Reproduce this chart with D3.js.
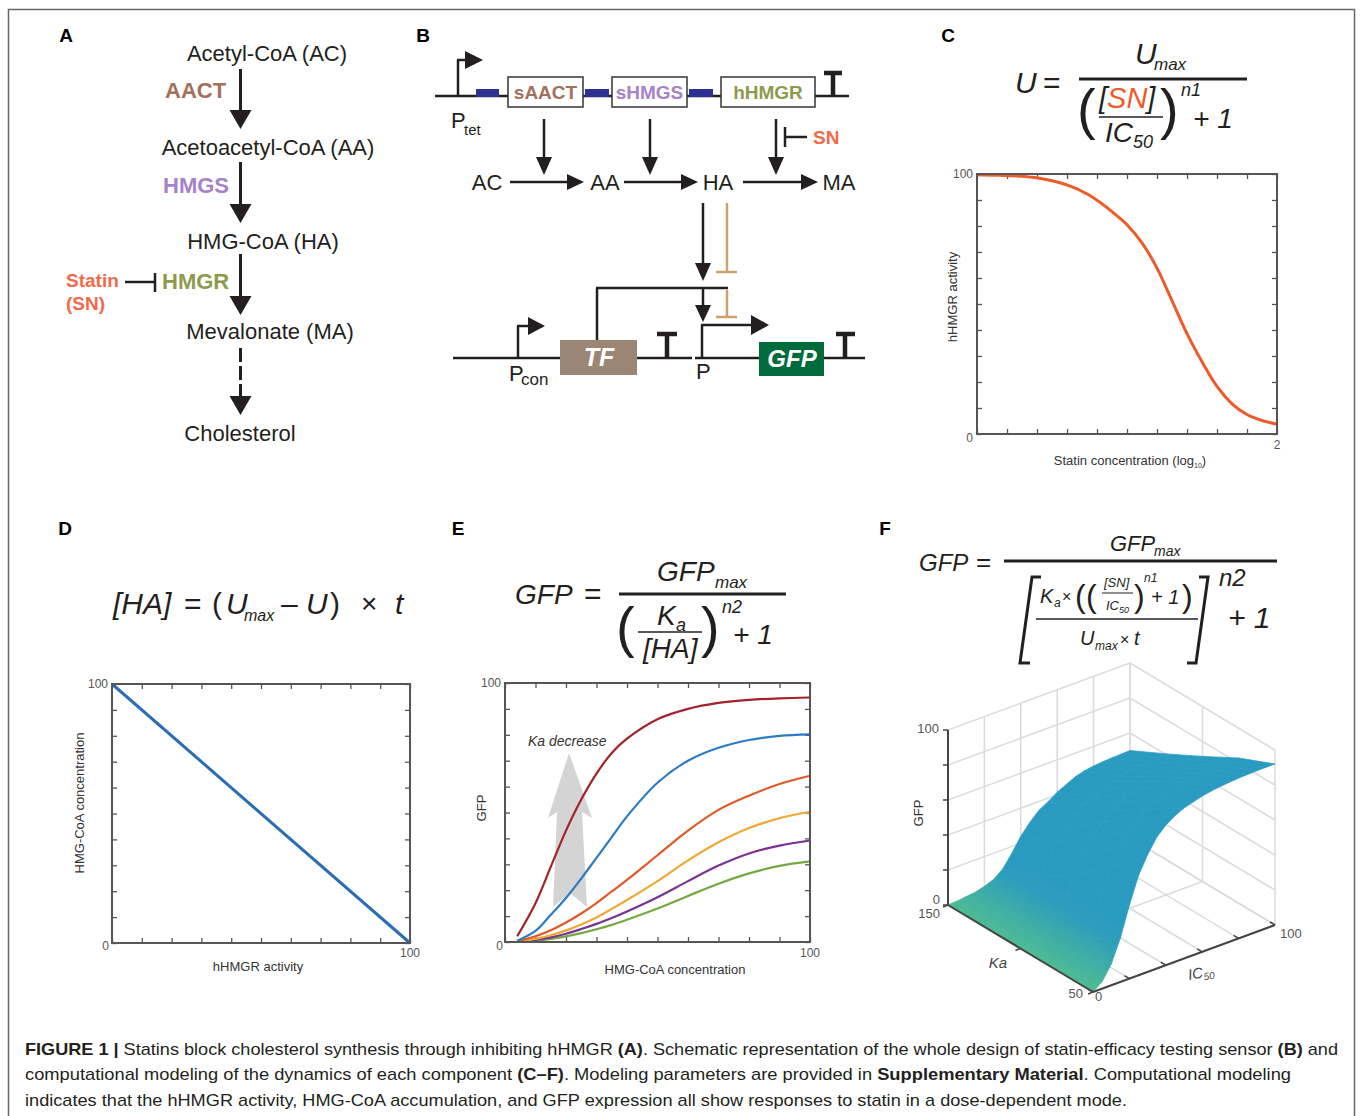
<!DOCTYPE html>
<html><head><meta charset="utf-8">
<script src="https://cdn.jsdelivr.net/npm/d3@7"></script>
<style>body{margin:0;background:#fff}svg{display:block}text{font-family:"Liberation Sans",Arial,sans-serif}</style>
</head><body><svg id="fig" width="1360" height="1116"></svg>
<script>
// ---------------- DATA ----------------
const panelLetters = ["A","B","C","D","E","F"];
const pathwaySteps = ["Acetyl-CoA (AC)","Acetoacetyl-CoA (AA)","HMG-CoA (HA)","Mevalonate (MA)","Cholesterol"];
const pathwayEnzymes = ["AACT","HMGS","HMGR"];
const geneNames = ["sAACT","sHMGS","hHMGR"];
const metabolites = ["AC","AA","HA","MA"];

// Panel C: hHMGR activity vs statin concentration (log10)
const statinConc   = [0, 0.15, 0.3, 0.45, 0.6, 0.75, 0.9, 1.0, 1.1, 1.2, 1.3, 1.4, 1.5, 1.6, 1.7, 1.8, 1.9, 2.0];
const hmgrActivity = [99.7, 99.5, 99.1, 98.0, 95.8, 91.8, 85.5, 80.5, 73.5, 63.8, 51.3, 38.6, 27.8, 18.3, 11.6, 7.5, 5.2, 3.8];
const cYTickLabels = ["0","100"]; const cXTickLabel = "2";

// Panel D: HMG-CoA concentration vs hHMGR activity
const hmgrActivityD = [0, 100];
const hmgCoaConc    = [100, 0];
const dYTickLabels = ["0","100"]; const dXTickLabel = "100";

// Panel E: GFP vs HMG-CoA concentration, six Ka values
const hmgCoaX = [4, 10, 15, 20, 25, 30, 35, 40, 50, 60, 70, 80, 90, 100];
const gfpCurve1 = [2.2, 15, 29, 43, 55, 65, 73, 78.5, 86, 90, 92.3, 93.5, 94.1, 94.4];
const gfpCurve2 = [0.5, 4.3, 10.5, 17, 24.5, 32.5, 40.5, 48.5, 61.5, 70, 75, 78, 79.6, 80.2];
const gfpCurve3 = [0.3, 2.2, 4.5, 7.5, 11, 15, 19.5, 24, 33.5, 43, 51, 56.5, 61, 64.2];
const gfpCurve4 = [0.1, 1.2, 2.6, 4.5, 6.8, 9.5, 12.8, 16.2, 23.5, 31.5, 38.5, 44, 47.8, 50.3];
const gfpCurve5 = [0, 0.8, 1.8, 3.2, 5, 7, 9.3, 11.8, 17.3, 23.5, 29.5, 34.2, 37.2, 39.2];
const gfpCurve6 = [0, 0.5, 1.2, 2.2, 3.4, 4.9, 6.6, 8.6, 12.9, 17.8, 22.5, 26.5, 29.4, 31.1];
const eCurveColors = ["#a2232b","#2b7cc4","#e05a26","#f0a833","#7b3294","#73a942"];
const eYTickLabels = ["0","100"]; const eXTickLabel = "100";

// Panel F: GFP surface over Ka (rows) and IC50 (columns)
const kaGrid = [50, 75, 100, 125, 150];
const icGrid = [0,5,10,15,20,25,30,35,40,45,50,55,60,65,70,75,80,85,90,95,100];
const gfpKa50  = [0,4,12,25,42,57,67,75,80,83.5,86,87.5,89,90,90.7,91.2,91.6,91.8,92,92,92];
const gfpKa75  = [0,1.5,5,12,22,35,47,57,64,69,73,76,78,79.5,80.5,81.3,81.8,82.2,82.5,82.7,83];
const gfpKa100 = [0,0.8,2.5,6,12,21,31,41,49,55,59.5,63,65.5,67.3,68.6,69.6,70.3,70.8,71.1,71.3,71.5];
const gfpKa125 = [0,0.3,1.2,3,6,11,17,25,33,39.5,44.5,48.5,51.5,54,56,57.5,58.5,59.3,59.8,60.2,60.5];
const gfpKa150 = [0,0.3,1,1.5,3,5,9,16,24,30,35,38,41.5,44,46.5,48,48.8,49.3,49.6,49.8,50];
const fZTicks = [0,20,40,60,80,100];
const fIcTicks = [0,20,40,60,80,100];
const fKaTicks = [50,100,150];

const captionLines = [
  [["FIGURE 1 | ",true],["Statins block cholesterol synthesis through inhibiting hHMGR ",false],["(A)",true],[". Schematic representation of the whole design of statin-efficacy testing sensor ",false],["(B)",true],[" and",false]],
  [["computational modeling of the dynamics of each component ",false],["(C–F)",true],[". Modeling parameters are provided in ",false],["Supplementary Material",true],[". Computational modeling",false]],
  [["indicates that the hHMGR activity, HMG-CoA accumulation, and GFP expression all show responses to statin in a dose-dependent mode.",false]]
];

// ---------------- HELPERS ----------------
const svg = d3.select('#fig');
const INK = '#231f20';
svg.append('rect').attr('width',1360).attr('height',1116).attr('fill','#fff');
svg.append('rect').attr('x',8.5).attr('y',9.5).attr('width',1346).attr('height',1130)
  .attr('fill','none').attr('stroke','#666').attr('stroke-width',1.5);

function T(g,x,y,s,o={}){
  const t=g.append('text').attr('x',x).attr('y',y).text(s)
    .attr('font-size',o.size||16).attr('fill',o.fill||INK);
  if(o.italic) t.attr('font-style','italic');
  if(o.bold) t.attr('font-weight','bold');
  if(o.anchor) t.attr('text-anchor',o.anchor);
  if(o.family) t.attr('font-family',o.family);
  if(o.rotate!=null) t.attr('transform',`rotate(${o.rotate},${x},${y})`);
  return t;
}
function L(g,x1,y1,x2,y2,c=INK,w=2.5){
  return g.append('line').attr('x1',x1).attr('y1',y1).attr('x2',x2).attr('y2',y2)
    .attr('stroke',c).attr('stroke-width',w);
}
function vArrow(g,x,y1,y2,hl,hw,c=INK,w=2.5,dash=null){
  L(g,x,y1,x,y2-hl+1,c,w).attr('stroke-dasharray',dash);
  g.append('path').attr('d',`M${x-hw},${y2-hl}L${x+hw},${y2-hl}L${x},${y2}Z`).attr('fill',c);
}
function hArrow(g,y,x1,x2,hl,hw,c=INK,w=2.5){
  L(g,x1,y,x2-hl+1,y,c,w);
  g.append('path').attr('d',`M${x2-hl},${y-hw}L${x2-hl},${y+hw}L${x2},${y}Z`).attr('fill',c);
}
const SERIF = '"Liberation Serif","Times New Roman",serif';

// panel letters
const letterPos = [[66,42],[423,42],[948,42],[65,535],[458,535],[885,535]];
panelLetters.forEach((s,i)=>T(svg,letterPos[i][0],letterPos[i][1],s,{size:19,bold:true,anchor:'middle',fill:'#000'}));

// ---------------- PANEL A ----------------
const gA = svg.append('g');
const aStepPos = [[267,61],[268,155],[263,249],[270,339],[240,441]];
pathwaySteps.forEach((s,i)=>T(gA,aStepPos[i][0],aStepPos[i][1],s,{size:22,anchor:'middle'}));
const enzColors = ['#a2705c','#a682c8','#8d9a4d'];
const aEnzPos = [[165,98],[163,193],[162,289]];
pathwayEnzymes.forEach((s,i)=>T(gA,aEnzPos[i][0],aEnzPos[i][1],s,{size:22,bold:true,fill:enzColors[i]}));
vArrow(gA,240.5,69,129,19,11,INK,3);
vArrow(gA,240.5,162,223,19,11,INK,3);
vArrow(gA,240.5,254,315,19,11,INK,3);
vArrow(gA,240.5,348,415,19,11,INK,3,'14,4');
T(gA,66,287,'Statin',{size:19,bold:true,fill:'#f26a4b'});
T(gA,66,310,'(SN)',{size:19,bold:true,fill:'#f26a4b'});
L(gA,125,282,155,282,INK,2.5);
L(gA,155,273,155,292,INK,2.5);

// ---------------- PANEL B ----------------
const gB = svg.append('g');
L(gB,435,96,849,96,INK,2.5);
L(gB,458,97,458,60,INK,2.5); L(gB,457,60,467,60,INK,2.5);
gB.append('path').attr('d','M465,51L465,69L483,60Z').attr('fill',INK);
T(gB,451,128,'P',{size:22}); T(gB,464,135,'tet',{size:15});
[[476,499],[585,609],[689,713]].forEach(d=>gB.append('rect').attr('x',d[0]).attr('y',89).attr('width',d[1]-d[0]).attr('height',8).attr('fill','#2e3192'));
const boxX=[[508,75],[612,75],[721,94]];
geneNames.forEach((s,i)=>{
  gB.append('rect').attr('x',boxX[i][0]).attr('y',77).attr('width',boxX[i][1]).attr('height',30)
    .attr('fill','#fff').attr('stroke','#333').attr('stroke-width',1.5);
  T(gB,boxX[i][0]+boxX[i][1]/2,99,s,{size:19,bold:true,anchor:'middle',fill:enzColors[i]});
});
L(gB,833,96,833,73,INK,4.5); L(gB,824,73,842,73,INK,4.5);
[544,650,776].forEach(x=>vArrow(gB,x,119,175,18,8,INK,2.5));
L(gB,785,137,807,137,INK,2.5); L(gB,785,127,785,147,INK,2.5);
T(gB,813,144,'SN',{size:19,bold:true,fill:'#f26a4b'});
const metX=[487,605,718,839];
metabolites.forEach((s,i)=>T(gB,metX[i],190,s,{size:22,anchor:'middle'}));
hArrow(gB,182,510,584,17,8); hArrow(gB,182,624,698,17,8); hArrow(gB,182,743,818,17,8);
vArrow(gB,703,203,281,18,8);
const TAN='#c9a26f';
L(gB,727,203,727,272,TAN,2.5); L(gB,716,272,737,272,TAN,2.5);
L(gB,597,340,597,288,INK,2.5); L(gB,596,288,728,288,INK,2.5);
vArrow(gB,703,288,322,17,8);
L(gB,727,290,727,317,TAN,2.5); L(gB,716,317,737,317,TAN,2.5);
L(gB,453,358,692,358,INK,2.5); L(gB,695,358,865,358,INK,2.5);
L(gB,518,359,518,326,INK,2.5); L(gB,517,326,530,326,INK,2.5);
gB.append('path').attr('d','M528,317L528,335L545,326Z').attr('fill',INK);
T(gB,509,381,'P',{size:22}); T(gB,521,385,'con',{size:17});
gB.append('rect').attr('x',560).attr('y',340).attr('width',77).attr('height',35).attr('fill','#9b8575');
T(gB,599,366,'TF',{size:25,bold:true,italic:true,fill:'#fff',anchor:'middle'});
L(gB,667,358,667,334,INK,4.5); L(gB,657,334,677,334,INK,4.5);
L(gB,845,358,845,334,INK,4.5); L(gB,836,334,855,334,INK,4.5);
L(gB,702,359,702,325,INK,2.5); L(gB,701,325,753,325,INK,2.5);
gB.append('path').attr('d','M751,315L751,335L769,325Z').attr('fill',INK);
T(gB,696,379,'P',{size:22});
gB.append('rect').attr('x',759).attr('y',342).attr('width',65).attr('height',34).attr('fill','#006b3c');
T(gB,792,367,'GFP',{size:24,bold:true,italic:true,fill:'#fff',anchor:'middle'});

// ---------------- PLOT HELPER ----------------
function boxPlot(g,x0,y0,w,h,xDom,yDom,nx,ny){
  const xs=d3.scaleLinear().domain(xDom).range([x0,x0+w]);
  const ys=d3.scaleLinear().domain(yDom).range([y0+h,y0]);
  const xt=d3.range(nx+1).map(i=>xDom[0]+(xDom[1]-xDom[0])*i/nx);
  const yt=d3.range(ny+1).map(i=>yDom[0]+(yDom[1]-yDom[0])*i/ny);
  const st=sel=>{sel.select('.domain').remove();sel.selectAll('.tick text').remove();
    sel.selectAll('.tick line').attr('stroke','#555').attr('stroke-width',1.3);};
  const axes=g.append('g');
  axes.append('g').attr('transform',`translate(0,${y0+h})`).call(d3.axisBottom(xs).tickValues(xt).tickSize(-5)).call(st);
  axes.append('g').attr('transform',`translate(0,${y0})`).call(d3.axisTop(xs).tickValues(xt).tickSize(-5)).call(st);
  axes.append('g').attr('transform',`translate(${x0},0)`).call(d3.axisLeft(ys).tickValues(yt).tickSize(-5)).call(st);
  axes.append('g').attr('transform',`translate(${x0+w},0)`).call(d3.axisRight(ys).tickValues(yt).tickSize(-5)).call(st);
  const frame=()=>g.append('rect').attr('x',x0).attr('y',y0).attr('width',w).attr('height',h)
      .attr('fill','none').attr('stroke','#555').attr('stroke-width',2);
  return {xs,ys,frame};
}
const TICKC='#555';

// ---------------- PANEL C ----------------
const gC = svg.append('g');
T(gC,1015,93,'U',{size:30,italic:true}); T(gC,1043,93,'=',{size:30});
L(gC,1079,79,1247,79,INK,3);
T(gC,1135,64,'U',{size:30,italic:true}); T(gC,1154,70,'max',{size:17,italic:true});
T(gC,1077,128,'(',{size:56,family:SERIF}); T(gC,1160,128,')',{size:56,family:SERIF});
const snT=T(gC,1099,108,'',{size:29,italic:true});
snT.append('tspan').text('[');snT.append('tspan').attr('fill','#f05a28').text('SN');snT.append('tspan').text(']');
L(gC,1099,117,1163,117,INK,1.5);
T(gC,1105,142,'IC',{size:28,italic:true}); T(gC,1133,148,'50',{size:18,italic:true});
T(gC,1181,96,'n1',{size:18,italic:true});
T(gC,1193,128,'+ 1',{size:28,italic:true});
{
  const p=boxPlot(gC,977,174,300,260,[0,2],[0,100],10,10);
  gC.append('path').datum(statinConc.map((x,i)=>[x,hmgrActivity[i]]))
    .attr('d',d3.line().x(d=>p.xs(d[0])).y(d=>p.ys(d[1])).curve(d3.curveMonotoneX))
    .attr('fill','none').attr('stroke','#f05a28').attr('stroke-width',3);
  p.frame();
  T(gC,p.xs(0)-4,p.ys(100)+4,cYTickLabels[1],{size:12,anchor:'end',fill:TICKC});
  T(gC,p.xs(0)-4,p.ys(0)+8,cYTickLabels[0],{size:12,anchor:'end',fill:TICKC});
  T(gC,p.xs(2),p.ys(0)+15,cXTickLabel,{size:12,anchor:'middle',fill:TICKC});
  T(gC,957,297,'hHMGR activity',{size:13,anchor:'middle',rotate:-90,fill:'#333'});
  const xl=T(gC,1130,465,'Statin concentration (log',{size:13,anchor:'middle',fill:'#333'});
  xl.append('tspan').attr('font-size',7).attr('dy',3).text('10');
  xl.append('tspan').attr('dy',-3).text(')');
}

// ---------------- PANEL D ----------------
const gD = svg.append('g');
T(gD,113,614,'[HA]',{size:30,italic:true});
T(gD,184,614,'=',{size:30});
T(gD,212,614,'(',{size:30});
T(gD,226,614,'U',{size:30,italic:true}); T(gD,244,621,'max',{size:16,italic:true});
T(gD,281,614,'–',{size:30});
T(gD,306,614,'U',{size:30,italic:true});
T(gD,330,614,')',{size:30});
T(gD,361,613,'×',{size:28});
T(gD,395,614,'t',{size:30,italic:true});
{
  const p=boxPlot(gD,112,684,298,259,[0,100],[0,100],10,10);
  gD.append('path').datum(hmgrActivityD.map((x,i)=>[x,hmgCoaConc[i]]))
    .attr('d',d3.line().x(d=>p.xs(d[0])).y(d=>p.ys(d[1])))
    .attr('fill','none').attr('stroke','#2a6db5').attr('stroke-width',3);
  p.frame();
  T(gD,p.xs(0)-4,p.ys(100)+4,dYTickLabels[1],{size:12,anchor:'end',fill:TICKC});
  T(gD,p.xs(0)-3,p.ys(0)+7,dYTickLabels[0],{size:12,anchor:'end',fill:TICKC});
  T(gD,p.xs(100),p.ys(0)+14,dXTickLabel,{size:12,anchor:'middle',fill:TICKC});
  T(gD,84,803,'HMG-CoA  concentration',{size:13,anchor:'middle',rotate:-90,fill:'#333'});
  T(gD,258,971,'hHMGR activity',{size:13,anchor:'middle',fill:'#333'});
}

// ---------------- PANEL E ----------------
const gE = svg.append('g');
T(gE,515,604,'GFP',{size:28,italic:true}); T(gE,584,604,'=',{size:30});
L(gE,619,594,786,594,INK,3);
T(gE,657,581,'GFP',{size:28,italic:true}); T(gE,715,588,'max',{size:17,italic:true});
T(gE,616,646,'(',{size:56,family:SERIF}); T(gE,701,646,')',{size:56,family:SERIF});
T(gE,657,625,'K',{size:28,italic:true}); T(gE,676,631,'a',{size:18,italic:true});
L(gE,638,632,702,632,INK,1.5);
T(gE,643,658,'[HA]',{size:28,italic:true});
T(gE,722,613,'n2',{size:18,italic:true});
T(gE,733,644,'+ 1',{size:28,italic:true});
{
  const p=boxPlot(gE,505,683,305,259,[0,100],[0,100],10,10);
  gE.append('path').attr('d','M569,753L592,818L582,812L587,907L570,893L553,907L557,812L548,818Z').attr('fill','#d4d4d4');
  T(gE,528,746,'Ka decrease',{size:14,italic:true,fill:'#333'});
  const series=[gfpCurve1,gfpCurve2,gfpCurve3,gfpCurve4,gfpCurve5,gfpCurve6];
  const ln=d3.line().x(d=>p.xs(d[0])).y(d=>p.ys(d[1])).curve(d3.curveCatmullRom.alpha(0.5));
  series.slice().reverse().forEach((s,ri)=>{
    const i=series.length-1-ri;
    gE.append('path').datum(hmgCoaX.map((x,k)=>[x,s[k]])).attr('d',ln)
      .attr('fill','none').attr('stroke',eCurveColors[i]).attr('stroke-width',2.2);
  });
  p.frame();
  T(gE,p.xs(0)-4,p.ys(100)+4,eYTickLabels[1],{size:12,anchor:'end',fill:TICKC});
  T(gE,p.xs(0)-2,p.ys(0)+8,eYTickLabels[0],{size:12,anchor:'end',fill:TICKC});
  T(gE,p.xs(100),p.ys(0)+15,eXTickLabel,{size:12,anchor:'middle',fill:TICKC});
  T(gE,486,808,'GFP',{size:13,anchor:'middle',rotate:-90,fill:'#333'});
  T(gE,675,974,'HMG-CoA  concentration',{size:13,anchor:'middle',fill:'#333'});
}

// ---------------- PANEL F ----------------
const gF = svg.append('g');
T(gF,919,571,'GFP',{size:24,italic:true}); T(gF,976,571,'=',{size:26});
L(gF,1004,561,1277,561,INK,3);
T(gF,1110,551,'GFP',{size:22,italic:true}); T(gF,1154,556,'max',{size:14,italic:true});
gF.append('path').attr('d','M1041,577L1032,577L1020,663L1030,663').attr('fill','none').attr('stroke',INK).attr('stroke-width',3);
gF.append('path').attr('d','M1199,577L1208,577L1196,663L1187,663').attr('fill','none').attr('stroke',INK).attr('stroke-width',3);
T(gF,1040,603,'K',{size:20,italic:true}); T(gF,1054,607,'a',{size:12,italic:true});
T(gF,1062,602,'×',{size:16});
T(gF,1075,607,'(',{size:32,family:SERIF}); T(gF,1086,607,'(',{size:32,family:SERIF});
T(gF,1104,587,'[SN]',{size:13,italic:true});
L(gF,1102,593,1133,593,INK,1);
T(gF,1106,610,'IC',{size:13,italic:true}); T(gF,1119,613,'50',{size:9,italic:true});
T(gF,1134,607,')',{size:32,family:SERIF});
T(gF,1144,582,'n1',{size:12,italic:true});
T(gF,1151,604,'+ 1',{size:20,italic:true});
T(gF,1182,607,')',{size:32,family:SERIF});
L(gF,1036,619,1198,619,INK,1.5);
T(gF,1080,645,'U',{size:20,italic:true}); T(gF,1095,650,'max',{size:12,italic:true});
T(gF,1120,645,'×',{size:16}); T(gF,1134,645,'t',{size:20,italic:true});
T(gF,1219,586,'n2',{size:24,italic:true});
T(gF,1228,628,'+ 1',{size:30,italic:true});
{
  const kaS=d3.scaleLinear().domain([50,150]).range([0,1]);
  const icS=d3.scaleLinear().domain([0,100]).range([0,1]);
  const zS=d3.scaleLinear().domain([0,100]).range([0,175]);
  const O=[1093,992], VKA=[-145,-87], VIC=[182,-67];
  const P=(ka,ic,z)=>{const a=kaS(ka),b=icS(ic);return [O[0]+VKA[0]*a+VIC[0]*b, O[1]+VKA[1]*a+VIC[1]*b-zS(z)];};
  const gl=(p1,p2,c='#dcdcdc',w=1.6)=>L(gF,p1[0],p1[1],p2[0],p2[1],c,w);
  fZTicks.forEach(z=>gl(P(150,0,z),P(150,100,z)));
  fIcTicks.forEach(ic=>gl(P(150,ic,0),P(150,ic,100)));
  fZTicks.forEach(z=>gl(P(150,100,z),P(50,100,z)));
  fKaTicks.forEach(k=>gl(P(k,100,0),P(k,100,100)));
  fIcTicks.forEach(ic=>gl(P(150,ic,0),P(50,ic,0)));
  fKaTicks.forEach(k=>gl(P(k,0,0),P(k,100,0)));
  // gradient (screen space, from Ka axis inward)
  const pm=P(100,0,0);
  const grad=svg.append('defs').append('linearGradient').attr('id','surfGrad')
    .attr('gradientUnits','userSpaceOnUse')
    .attr('x1',pm[0]).attr('y1',pm[1]).attr('x2',pm[0]+0.51*75).attr('y2',pm[1]-0.86*75);
  [[0,'#4fbb94'],[0.35,'#3eaea6'],[0.75,'#2c9dbd'],[1,'#2a9bc0']].forEach(([o,c])=>grad.append('stop').attr('offset',o).attr('stop-color',c));
  // surface
  const rows=[gfpKa50,gfpKa75,gfpKa100,gfpKa125,gfpKa150];
  const quads=[];
  for(let j=0;j<kaGrid.length-1;j++) for(let i=0;i<icGrid.length-1;i++){
    const c=[[j,i],[j,i+1],[j+1,i+1],[j+1,i]];
    const pts=c.map(([a,b])=>P(kaGrid[a],icGrid[b],rows[a][b]));
    const depth=182*kaS((kaGrid[j]+kaGrid[j+1])/2)+145*icS((icGrid[i]+icGrid[i+1])/2);
    quads.push({pts,depth});
  }
  quads.sort((a,b)=>b.depth-a.depth);
  gF.append('g').selectAll('path').data(quads).join('path')
    .attr('d',q=>'M'+q.pts.map(p=>p.join(',')).join('L')+'Z')
    .attr('fill','url(#surfGrad)').attr('stroke','url(#surfGrad)').attr('stroke-width',0.8).attr('stroke-linejoin','round');
  const AX='#444';
  gl(P(150,0,0),P(150,0,100),AX,2);
  gl(P(150,0,0),P(50,0,0),AX,2);
  gl(P(50,0,0),P(50,100,0),AX,2);
  fZTicks.forEach(z=>{const p=P(150,0,z);gl(p,[p[0]-5,p[1]],AX,1.5);});
  fKaTicks.forEach(k=>{const p=P(k,0,0);gl(p,[p[0]-5,p[1]+2],AX,1.5);});
  fIcTicks.forEach(ic=>{const p=P(50,ic,0);gl(p,[p[0]-5,p[1]-3],AX,1.5);});
  const pz100=P(150,0,100), pz0=P(150,0,0), pk50=P(50,0,0), pi100=P(50,100,0);
  T(gF,pz100[0]-9,pz100[1]+3,String(fZTicks[fZTicks.length-1]),{size:13,anchor:'end',fill:TICKC});
  T(gF,pz0[0]-8,pz0[1]-1,String(fZTicks[0]),{size:13,anchor:'end',fill:TICKC});
  T(gF,pz0[0]-8,pz0[1]+13,String(fKaTicks[2]),{size:13,anchor:'end',fill:TICKC});
  T(gF,pk50[0]-10,pk50[1]+6,String(fKaTicks[0]),{size:13,anchor:'end',fill:TICKC});
  T(gF,pk50[0]+2,pk50[1]+9,String(fIcTicks[0]),{size:13,fill:TICKC});
  T(gF,pi100[0]+5,pi100[1]+13,String(fIcTicks[fIcTicks.length-1]),{size:13,fill:TICKC});
  T(gF,923,813,'GFP',{size:13,anchor:'middle',rotate:-90,fill:'#333'});
  T(gF,998,968,'Ka',{size:15,italic:true,anchor:'middle',fill:'#444'});
  const ic=T(gF,1189,980,'IC',{size:15,italic:true,fill:'#444',rotate:-10});
  ic.append('tspan').attr('font-size',10).attr('dy',3).text('50');
}

// ---------------- CAPTION ----------------
const capY=[1055,1080,1106], capLen=[1313,1266,1102];
captionLines.forEach((segs,i)=>{
  const t=svg.append('text').attr('x',25).attr('y',capY[i]).attr('font-size',17).attr('fill',INK)
    .attr('textLength',capLen[i]).attr('lengthAdjust','spacingAndGlyphs');
  segs.forEach(([s,b])=>t.append('tspan').attr('font-weight',b?'bold':null).text(s));
});
</script></body></html>
